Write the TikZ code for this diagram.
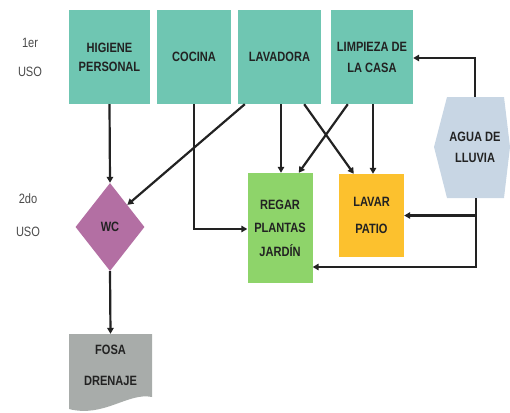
\documentclass[tikz,border=0pt]{standalone}
\usepackage{fontspec}
\setmainfont[FakeStretch=0.82]{Liberation Sans}
\usetikzlibrary{shapes.geometric,arrows.meta}
\definecolor{teal1}{HTML}{6FC6B2}
\definecolor{green1}{HTML}{8ED46A}
\definecolor{orange1}{HTML}{FCC12E}
\definecolor{purple1}{HTML}{B36FA3}
\definecolor{gray1}{HTML}{A8ACAA}
\definecolor{blue1}{HTML}{C8D6E4}
\definecolor{ink}{HTML}{222222}
\definecolor{lbl}{HTML}{4A4A4A}
\tikzset{
  box/.style={rectangle, inner sep=0pt, align=center, text=ink},
  usebox/.style={box, fill=teal1, minimum height=94pt},
  lvl/.style={text=lbl, align=center, inner sep=0pt},
  flow/.style={draw=ink, line width=2.2pt, -{Triangle[length=6pt,width=6.5pt]}},
  txt/.style={font=\fontsize{13.5}{#1}\selectfont\bfseries},
  ltxt/.style={font=\fontsize{13.5}{#1}\selectfont},
}
\begin{document}
\begin{tikzpicture}[x=1pt,y=-1pt]
\useasboundingbox (0,0) rectangle (510,412);

% level labels
\node[lvl, ltxt=29] (lvlA) at (30,57.5) {1er\\USO};
\node[lvl, ltxt=33] (lvlB) at (28,215.5) {2do\\USO};

% first-use sources
\node[usebox, txt=19, minimum width=81pt] (hig) at (109.5,57) {HIGIENE\\PERSONAL};
\node[usebox, txt=19, minimum width=74pt] (coc) at (194,57) {COCINA};
\node[usebox, txt=19, minimum width=83pt] (lav) at (279.5,57) {LAVADORA};
\node[usebox, txt=21, minimum width=82pt] (lim) at (372,57) {LIMPIEZA DE\\LA CASA};

% second-use targets
\node[box, txt=23.5, fill=green1, minimum width=65pt, minimum height=110pt] (reg) at (280,228) {REGAR\\PLANTAS\\JARDÍN};
\node[box, txt=27, fill=orange1, minimum width=65pt, minimum height=83pt] (pat) at (371.5,215.5) {LAVAR\\PATIO};
\node[diamond, fill=purple1, inner sep=0pt, minimum width=69pt, minimum height=88pt, text=ink, txt=19] (wc) at (110,227) {WC};

% drainage pit (document shape)
\fill[gray1] (69,334) -- (152,334) -- (152,397)
  .. controls (128,392) and (104,418) .. (69,409) -- cycle;
\node[box, txt=31, minimum width=83pt, minimum height=63pt] (fosa) at (110.5,365.5) {FOSA\\DRENAJE};

% rainwater tank
\fill[blue1] (447,97) -- (504,97) -- (510,147) -- (504,198) -- (447,198) -- (434,147) -- cycle;
\node[box, txt=21, minimum width=60pt, minimum height=101pt] (agua) at (475,147.5) {AGUA DE\\LLUVIA};

% connectors
\draw[flow] (hig.south) -- (wc.north);
\draw[flow] (wc.south) -- (fosa.north);
\draw[flow] (coc.south) |- ([yshift=-1pt]reg.west);
\draw[flow] ([xshift=7pt]lav.south west) -- (wc.north east);
\draw[flow] ([xshift=1.5pt]lav.south) -- ([xshift=1pt]reg.north);
\draw[flow] ([xshift=-17pt]lav.south east) -- ([xshift=15pt]pat.north west);
\draw[flow] ([xshift=17pt]lim.south west) -- ([xshift=-14pt]reg.north east);
\draw[flow] ([xshift=1pt]lim.south) -- ([xshift=1.5pt]pat.north);
\draw[flow] (agua.north) |- ([yshift=-1pt]lim.east);
\draw[flow] ([xshift=1pt]agua.south) |- (pat.east);
\draw[flow] ([xshift=1pt]agua.south) |- ([yshift=-39pt]reg.east);
\end{tikzpicture}
\end{document}
